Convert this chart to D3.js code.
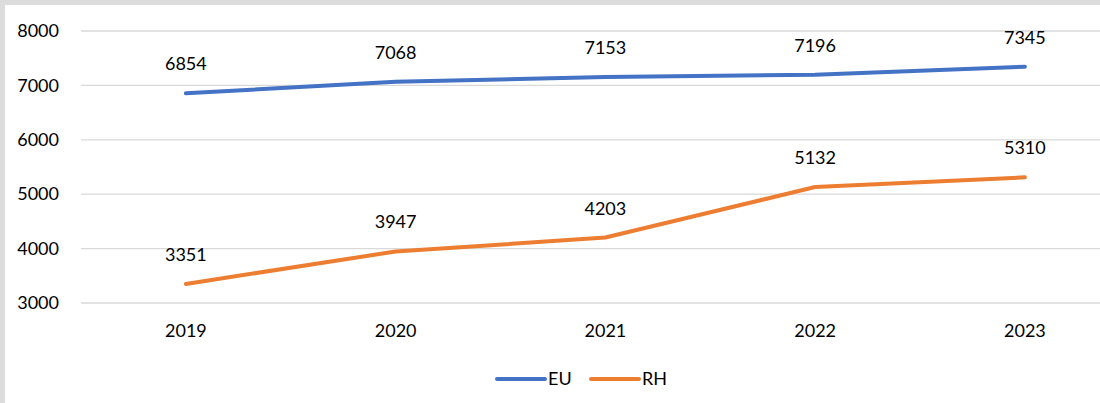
<!DOCTYPE html>
<html>
<head>
<meta charset="utf-8">
<script src="https://cdn.jsdelivr.net/npm/d3@7"></script>
<style>
  html, body { margin: 0; padding: 0; background: #dcdcdc; }
  #chart { position: absolute; left: 5px; top: 5px; width: 1095px; height: 398px; background: #fff; }
  text { font-family: Lato, "Open Sans", sans-serif; fill: #000; }
</style>
</head>
<body>
<div id="chart"></div>
<script>
var years = ['2019', '2020', '2021', '2022', '2023'];
var euValues = [6854, 7068, 7153, 7196, 7345];
var rhValues = [3351, 3947, 4203, 5132, 5310];
var yTicks = [3000, 4000, 5000, 6000, 7000, 8000];

var series = [
    { name: 'EU', values: euValues, color: '#4472C4' },
    { name: 'RH', values: rhValues, color: '#ED7D31' }
];

var conf = { width: 1095, height: 398, left: 76, top: 26, plotBottom: 298, bandLeft: 76, band: 209.75 };

var svg = d3.select('#chart')
    .append('svg')
    .attr('width', conf.width)
    .attr('height', conf.height);

var x = d3.scaleBand()
    .domain(years)
    .range([conf.bandLeft, conf.bandLeft + conf.band * years.length]);

var y = d3.scaleLinear()
    .domain([3000, 8000])
    .range([conf.plotBottom, conf.top]);

// gridlines
svg.append('g')
    .selectAll('line')
    .data(yTicks).enter().append('line')
    .attr('x1', conf.left)
    .attr('x2', conf.width)
    .attr('y1', function(d) { return y(d); })
    .attr('y2', function(d) { return y(d); })
    .attr('stroke', '#d9d9d9')
    .attr('stroke-width', 1.3);

// y axis labels
var yAxis = d3.axisLeft(y).tickValues(yTicks).tickFormat(d3.format('d')).tickSize(0).tickPadding(0);
var gy = svg.append('g')
    .attr('transform', 'translate(' + 54 + ',0)')
    .call(yAxis);
gy.select('.domain').remove();
gy.selectAll('text')
    .attr('font-size', 18)
    .attr('font-family', 'Lato, sans-serif')
    .attr('fill', '#000');

// x axis labels
var xAxis = d3.axisBottom(x).tickSize(0).tickPadding(0);
var gx = svg.append('g')
    .attr('transform', 'translate(0,' + (conf.plotBottom + 21) + ')')
    .call(xAxis);
gx.select('.domain').remove();
gx.selectAll('text')
    .attr('font-size', 18)
    .attr('font-family', 'Lato, sans-serif')
    .attr('fill', '#000');

var line = d3.line()
    .x(function(d, i) { return x(years[i]) + x.bandwidth() / 2; })
    .y(function(d) { return y(d); });

series.forEach(function(s) {
    svg.append('path')
        .datum(s.values)
        .attr('d', line)
        .attr('fill', 'none')
        .attr('stroke', s.color)
        .attr('stroke-width', 4)
        .attr('stroke-linecap', 'round')
        .attr('stroke-linejoin', 'round');

    svg.append('g')
        .selectAll('text')
        .data(s.values).enter().append('text')
        .text(function(d) { return d; })
        .attr('x', function(d, i) { return x(years[i]) + x.bandwidth() / 2; })
        .attr('y', function(d) { return y(d) - 23; })
        .attr('text-anchor', 'middle')
        .attr('font-size', 18);
});

// legend
var legend = svg.append('g')
    .attr('transform', 'translate(490,374)');
var item = legend.selectAll('g')
    .data(series).enter().append('g')
    .attr('transform', function(d, i) { return 'translate(' + (i * 94) + ',0)'; });
item.append('line')
    .attr('x1', 2).attr('x2', 50)
    .attr('y1', 0).attr('y2', 0)
    .attr('stroke', function(d) { return d.color; })
    .attr('stroke-width', 4)
    .attr('stroke-linecap', 'round');
item.append('text')
    .text(function(d) { return d.name; })
    .attr('x', 53)
    .attr('y', 6)
    .attr('font-size', 18);
</script>
</body>
</html>
